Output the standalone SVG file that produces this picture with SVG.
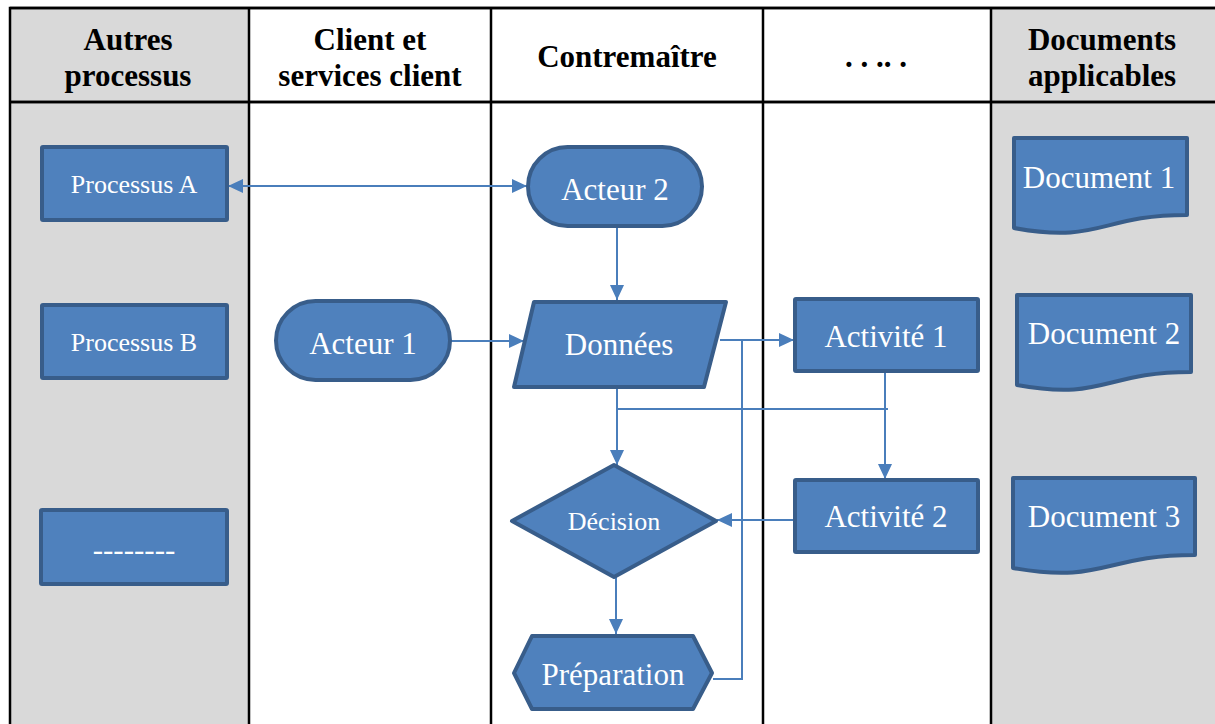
<svg xmlns="http://www.w3.org/2000/svg" width="1215" height="724" viewBox="0 0 1215 724">
  <style>
    .lane-gray { fill: #D9D9D9; }
    .lane-white { fill: #FFFFFF; }
    .grid { stroke: #000000; stroke-width: 2.5; fill: none; }
    .hdr { font-family: "Liberation Serif", "Times New Roman", serif; font-weight: bold; font-size: 31px; fill: #000000; text-anchor: middle; }
    .shape { fill: #4F81BD; stroke: #385D8A; stroke-width: 4; stroke-linejoin: round; }
    .lbl { font-family: "Liberation Serif", "Times New Roman", serif; font-size: 31px; fill: #FFFFFF; text-anchor: middle; }
    .lbl-s { font-family: "Liberation Serif", "Times New Roman", serif; font-size: 26px; fill: #FFFFFF; text-anchor: middle; }
    .conn { stroke: #4A7EBB; stroke-width: 2; fill: none; }
  </style>
  <defs>
    <marker id="arrow" markerUnits="userSpaceOnUse" markerWidth="15" markerHeight="14" viewBox="0 0 15 14" refX="15" refY="7" orient="auto-start-reverse">
      <path d="M0,0 L15,7 L0,14 Z" fill="#4A7EBB"/>
    </marker>
  </defs>

  <!-- swimlane table -->
  <g id="lanes">
    <rect class="lane-gray" x="10" y="8" width="239" height="716"/>
    <rect class="lane-white" x="249" y="8" width="242" height="716"/>
    <rect class="lane-white" x="491" y="8" width="272" height="716"/>
    <rect class="lane-white" x="763" y="8" width="228" height="716"/>
    <rect class="lane-gray" x="991" y="8" width="224" height="716"/>
    <path class="grid" d="M10,724 V8 H1215 M249,8 V724 M491,8 V724 M763,8 V724 M991,8 V724 M10,102 H1215"/>
    <path class="grid" d="M10,8 H1215" stroke-width="3"/>
    <path class="grid" d="M10,102 H1215" stroke-width="3"/>
  </g>

  <g id="headers">
    <text class="hdr" x="128" y="50">Autres</text>
    <text class="hdr" x="128" y="86">processus</text>
    <text class="hdr" x="370" y="50">Client et</text>
    <text class="hdr" x="370" y="86">services client</text>
    <text class="hdr" x="627" y="67">Contremaître</text>
    <text class="hdr" x="876" y="67">. . .. .</text>
    <text class="hdr" x="1102" y="50">Documents</text>
    <text class="hdr" x="1102" y="86">applicables</text>
  </g>

  <!-- connectors -->
  <g id="connectors">
    <path class="conn" d="M228,186 H527" marker-start="url(#arrow)" marker-end="url(#arrow)"/>
    <path class="conn" d="M617,227 V300" marker-end="url(#arrow)"/>
    <path class="conn" d="M451,341 H524" marker-end="url(#arrow)"/>
    <path class="conn" d="M720,340 H794" marker-end="url(#arrow)"/>
    <path class="conn" d="M742,340 V679 H713"/>
    <path class="conn" d="M617,388 V465" marker-end="url(#arrow)"/>
    <path class="conn" d="M617,409 H888"/>
    <path class="conn" d="M885,372 V479" marker-end="url(#arrow)"/>
    <path class="conn" d="M794,520 H717" marker-end="url(#arrow)"/>
    <path class="conn" d="M616,577 V634" marker-end="url(#arrow)"/>
  </g>

  <!-- other processes -->
  <g id="processus-a">
    <rect class="shape" x="42" y="147" width="185" height="73" rx="1"/>
    <text class="lbl-s" x="134" y="193">Processus A</text>
  </g>
  <g id="processus-b">
    <rect class="shape" x="42" y="305" width="185" height="73" rx="1"/>
    <text class="lbl-s" x="134" y="351">Processus B</text>
  </g>
  <g id="processus-autre">
    <rect class="shape" x="41" y="510" width="186" height="74" rx="1"/>
    <text class="lbl" x="134" y="560">--------</text>
  </g>

  <!-- actors -->
  <g id="acteur-1">
    <rect class="shape" x="276" y="301" width="174" height="79" rx="39.5"/>
    <text class="lbl" x="363" y="354">Acteur 1</text>
  </g>
  <g id="acteur-2">
    <rect class="shape" x="528" y="147" width="174" height="79" rx="39.5"/>
    <text class="lbl" x="615" y="200">Acteur 2</text>
  </g>

  <!-- data, decision, preparation -->
  <g id="donnees">
    <polygon class="shape" points="534,302 726,302 704,387 514,387"/>
    <text class="lbl" x="619" y="355">Données</text>
  </g>
  <g id="decision">
    <polygon class="shape" points="614,465 716,521 614,577 512,521"/>
    <text class="lbl-s" x="614" y="530">Décision</text>
  </g>
  <g id="preparation">
    <polygon class="shape" points="532,636 693,636 712,673 693,709 532,709 514,673"/>
    <text class="lbl" x="613" y="685">Préparation</text>
  </g>

  <!-- activities -->
  <g id="activite-1">
    <rect class="shape" x="795" y="299" width="183" height="72" rx="1"/>
    <text class="lbl" x="886" y="347">Activité 1</text>
  </g>
  <g id="activite-2">
    <rect class="shape" x="795" y="480" width="183" height="72" rx="1"/>
    <text class="lbl" x="886" y="527">Activité 2</text>
  </g>

  <!-- applicable documents -->
  <g id="document-1">
    <path class="shape" d="M1014,138 H1187 V215 C1100,215 1100,244 1014,228 Z"/>
    <text class="lbl" x="1099" y="188">Document 1</text>
  </g>
  <g id="document-2">
    <path class="shape" d="M1017,295 H1191 V372 C1104,372 1104,401 1017,385 Z"/>
    <text class="lbl" x="1104" y="344">Document 2</text>
  </g>
  <g id="document-3">
    <path class="shape" d="M1013,478 H1195 V555 C1104,555 1104,584 1013,568 Z"/>
    <text class="lbl" x="1104" y="527">Document 3</text>
  </g>
</svg>
